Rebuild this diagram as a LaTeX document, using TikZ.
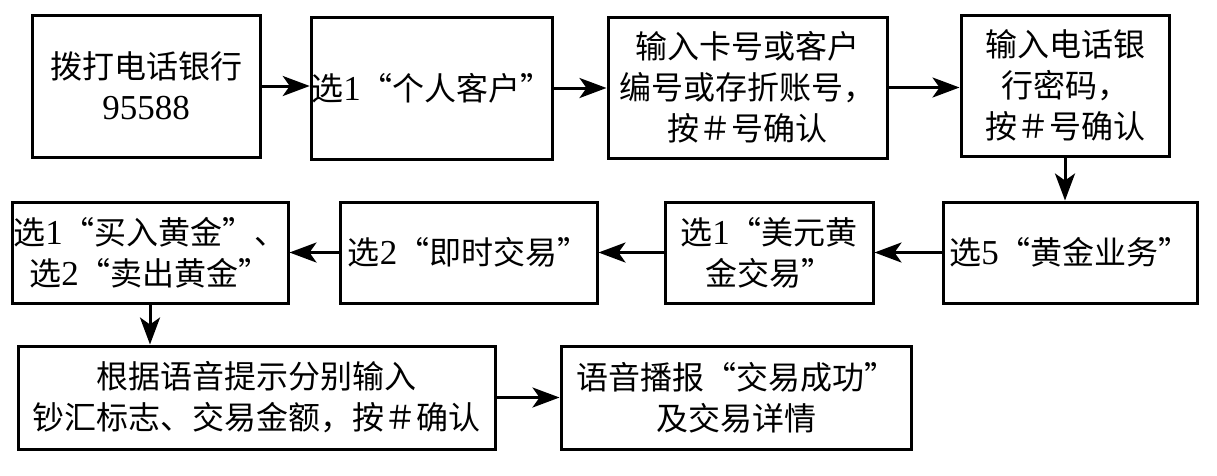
\documentclass[tikz,border=0pt]{standalone}
\usepackage{fontspec}
\usetikzlibrary{arrows.meta}
\newfontfamily\cjk{Noto Sans CJK SC}
\newfontfamily\latn{Liberation Serif}
\newcommand\dg[1]{{\latn\fontsize{35}{41}\selectfont #1}}
\tikzset{
  box/.style={draw, line width=3pt, inner sep=0pt, align=center,
    font=\cjk\fontsize{32}{41}\selectfont},
  arr/.style={line width=3pt, -{Stealth[length=27pt,width=20pt,inset=7pt]}}
}
\begin{document}
\begin{tikzpicture}[x=1pt,y=-1pt]
\useasboundingbox (0,0) rectangle (1217,475);
\node[box, minimum width=228pt, minimum height=142pt] (b1) at (146,86) {拨打电话银行\\\dg{95588}};
\node[box, minimum width=240pt, minimum height=142pt] (b2) at (432,88) {选\dg{1}“个人客户”};
\node[box, minimum width=279pt, minimum height=141pt] (b3) at (747.5,87.5) {输入卡号或客户\\编号或存折账号，\\按＃号确认};
\node[box, minimum width=208pt, minimum height=141pt] (b4) at (1065,85.5) {输入电话银\\行密码，\\按＃号确认};
\node[box, minimum width=254pt, minimum height=101pt] (b9) at (1070,252.5) {选\dg{5}“黄金业务”};
\node[box, minimum width=208pt, minimum height=101pt] (b8) at (769,252.5) {选\dg{1}“美元黄\\金交易”};
\node[box, minimum width=257pt, minimum height=101pt] (b7) at (468.5,252.5) {选\dg{2}“即时交易”};
\node[box, minimum width=276pt, minimum height=101pt] (b6) at (150,252.5) {选\dg{1}“买入黄金”、\\选\dg{2}“卖出黄金”};
\node[box, minimum width=477pt, minimum height=103pt] (b10) at (256.5,397.5) {根据语音提示分别输入\\钞汇标志、交易金额，按＃确认};
\node[box, minimum width=350pt, minimum height=103pt] (b11) at (736,397.5) {语音播报“交易成功”\\及交易详情};
\draw[arr] (b1.east) -- (b1.east -| b2.west);
\draw[arr] (b2.east) -- (b2.east -| b3.west);
\draw[arr] (b3.east) -- (b3.east -| b4.west);
\draw[arr] (b4.south) -- (b4.south |- b9.north);
\draw[arr] (b9.west) -- (b9.west -| b8.east);
\draw[arr] (b8.west) -- (b8.west -| b7.east);
\draw[arr] (b7.west) -- (b7.west -| b6.east);
\draw[arr] (b6.south) -- (b6.south |- b10.north);
\draw[arr] (b10.east) -- (b10.east -| b11.west);
\end{tikzpicture}
\end{document}
